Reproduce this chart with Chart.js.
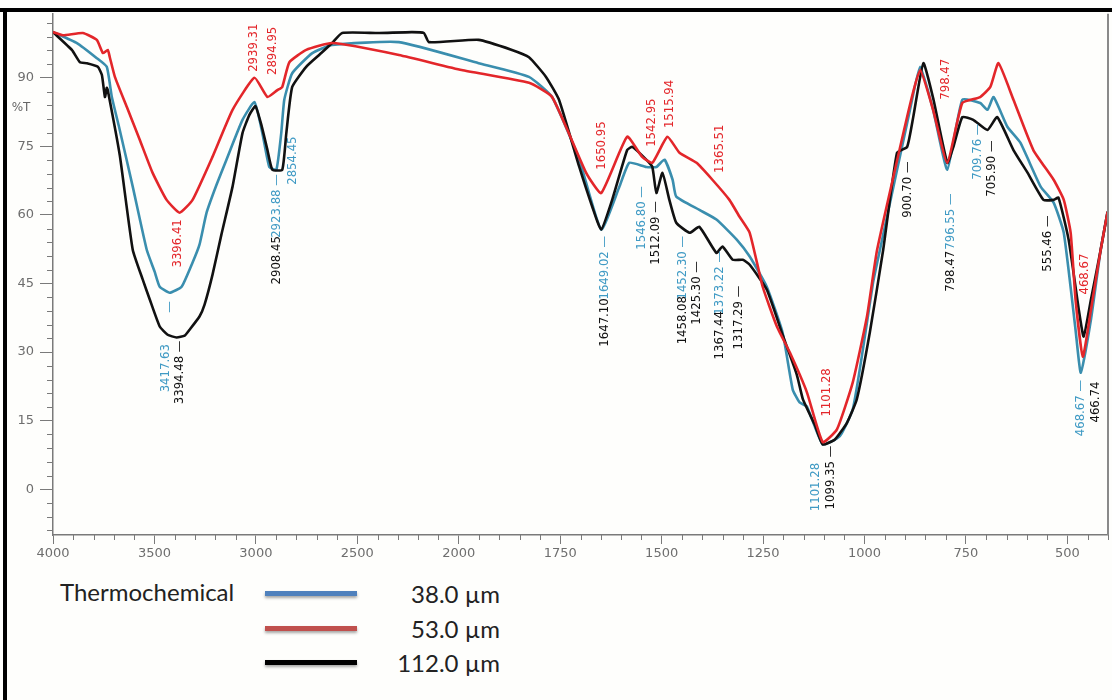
<!DOCTYPE html>
<html>
<head>
<meta charset="utf-8">
<script src="https://cdn.jsdelivr.net/npm/chart.js@4.4.1/dist/chart.umd.min.js"></script>
<style>
  html, body { margin: 0; padding: 0; background: #fff; }
  #wrap { position: relative; width: 1112px; height: 700px; background: #fefefc; overflow: hidden; }
  #box { position: absolute; left: 0; top: 0; width: 1112px; height: 565px; }
  .frame { position: absolute; background: #000; }
  .leg { position: absolute; font-family: Lato, "Open Sans", sans-serif; font-size: 24px; line-height: 28px; color: #222; white-space: nowrap; }
  .swatch { position: absolute; left: 265px; width: 92px; height: 5px; box-shadow: 0 2px 3px rgba(0,0,0,0.35); }
</style>
</head>
<body>
<div id="wrap">
  <div id="box"><canvas id="ftir"></canvas></div>
  <div class="frame" style="left:0;top:8px;width:1112px;height:4px"></div>
  <div class="frame" style="left:3px;top:8px;width:4px;height:692px"></div>
  <div class="leg" style="left:60px;top:578px">Thermochemical</div>
  <div class="swatch" style="top:591px;background:#4f81bd"></div>
  <div class="swatch" style="top:626px;background:#c0504d"></div>
  <div class="swatch" style="top:660px;background:#000"></div>
  <div class="leg" style="right:612px;top:580px">38.0 µm</div>
  <div class="leg" style="right:612px;top:615px">53.0 µm</div>
  <div class="leg" style="right:612px;top:649px">112.0 µm</div>
</div>
<script>
// tick values
const xTicks = [4000, 3500, 3000, 2500, 2000, 1750, 1500, 1250, 1000, 750, 500];
const yTicks = [0, 15, 30, 45, 60, 75, 90];

// 38.0 um (blue)
const blueWn = [4000,3882,3784,3735,3710,3671,3607,3538,3499,3474,3425,3366,3312,3278,3243,3194,3145,3066,3007,2968,
  2934,2899,2875,2860,2821,2722,2624,2295,1951,1827,1770,1703,1649,1604,1580,1538,1513,1493,1473,1464,
  1407,1365,1315,1283,1241,1202,1177,1160,1142,1103,1061,1029,1004,979,962,888,863,831,796,759,
  715,697,682,648,616,566,534,509,480,467,442,418,401];
const blueT = [100,97.6,94.3,92.4,85.8,78.6,66.2,52.4,47.6,44.3,43.0,44.3,49.6,53.5,60.5,66.6,72.1,80.8,84.7,77.9,
  70.5,69.9,77.9,85.2,91.0,95.4,97.2,97.8,93.2,90.2,85.8,72.1,56.8,66.2,71.4,70.5,70.5,72.1,67.7,64.0,
  61.1,59.0,54.6,50.9,44.3,34.3,21.8,19.0,18.1,9.8,11.6,17.5,30.6,45.2,52.4,83.0,92.4,83.0,69.9,85.2,
  84.5,83.0,85.8,79.3,75.8,66.2,62.7,56.1,34.9,25.5,37.1,52.4,60.7];

// 53.0 um (red)
const redWn = [4000,3951,3853,3784,3754,3730,3720,3695,3636,3572,3509,3440,3376,3312,3214,3115,3007,2943,2894,2870,
  2835,2752,2624,2295,1993,1827,1770,1686,1649,1585,1548,1523,1486,1456,1414,1375,1333,1308,1283,1251,
  1216,1184,1142,1103,1068,1029,994,969,888,863,831,796,759,715,690,670,633,584,534,509,
  492,480,462,442,418,401];
const redT = [100,99.3,99.8,98.3,95.4,96.1,94.5,90.2,83.6,76.4,69.2,63.3,60.5,63.3,72.7,83.0,90.0,85.8,87.3,88.0,
  93.4,96.1,97.6,95.0,91.7,88.9,85.8,69.2,64.8,77.1,72.7,71.4,77.1,73.6,71.4,67.7,63.3,59.6,56.1,44.3,
  35.6,29.9,21.2,10.3,13.1,23.4,37.8,52.4,84.1,91.7,83.0,71.4,84.5,85.8,88.0,93.2,85.2,74.2,67.7,63.3,
  56.1,41.5,29.0,39.3,52.4,60.7];

// 112.0 um (black)
const blackWn = [4000,3907,3867,3833,3779,3759,3744,3735,3730,3671,3607,3558,3523,3474,3435,3391,3351,3327,3278,3253,
  3214,3170,3115,3066,3032,3002,2973,2943,2919,2870,2850,2821,2752,2688,2624,2575,2393,2231,2172,2147,
  1951,1869,1827,1785,1753,1703,1671,1649,1622,1585,1572,1538,1523,1513,1498,1481,1464,1431,1407,1365,
  1350,1325,1300,1283,1241,1202,1167,1152,1135,1123,1103,1073,1043,1019,987,954,920,895,880,855,
  830,796,781,759,732,697,673,633,598,559,534,522,497,472,460,442,418,401];
const blackT = [100,96.1,93.4,93.2,92.4,90.6,85.8,87.8,87.3,73.1,52.4,45.9,41.5,35.6,33.8,33.2,33.6,34.9,37.8,40.4,
  46.9,55.7,66.2,77.9,81.9,83.8,79.7,74.2,69.9,69.9,77.9,88.0,92.4,95.0,97.6,99.8,99.8,100,99.8,97.8,
  98.3,96.1,94.5,90.2,85.2,70.5,61.8,56.8,63.3,74.2,74.9,72.1,70.5,64.8,69.2,63.3,58.3,56.1,57.4,51.7,
  53.1,50.2,50.2,49.1,43.7,33.8,25.1,19.7,16.4,14.2,9.8,10.9,14.6,19.7,34.3,52.4,73.6,74.9,81.4,93.2,
  85.2,71.4,74.9,81.4,80.8,78.6,81.4,74.2,69.2,63.3,63.3,63.8,54.6,39.3,33.4,41.5,52.4,60.7];

// peak labels: [text, wavenumber, %T at the foot of the text]
const redPeaks = [['2939.31',3012,91.3],['2894.95',2919,90.6],['3396.41',3386,48.5],['1650.95',1649,69.9],
  ['1542.95',1525,74.9],['1515.94',1481,79.0],['1365.51',1357,69.2],['1101.28',1093,15.9],['798.47',799,85.2],
  ['468.67',457,42.6]];
const bluePeaks = [['3417.63',3445,21.2],['\u2014',3425,38.6],['2923.88 \u2014',2899,55.0],['2854.45',2821,66.6],
  ['1649.02 \u2014',1641,41.5],['1546.80 \u2014',1550,52.4],['1452.30 \u2014',1449,41.5],['1373.22 \u2014',1357,38.2],
  ['1101.28',1120,-4.8],['796.55 \u2014',789,52.4],['709.76 \u2014',722,67.7],['468.67 \u2014',467,11.6]];
const blackPeaks = [['3394.48 \u2014',3376,18.6],['2908.45',2899,44.8],['1647.10',1641,31.2],['1512.09 \u2014',1514,49.1],
  ['1458.08',1449,31.7],['1425.30 \u2014',1414,36.0],['1367.44',1357,28.4],['1317.29 \u2014',1310,30.6],
  ['1099.35 \u2014',1083,-4.4],['900.70 \u2014',895,59.4],['798.47',789,43.2],['705.90 \u2014',687,64.0],
  ['555.46 \u2014',549,47.6],['466.74',430,14.6]];

const RED = '#e3262a', BLUE = '#3a8eae', BLACK = '#111';

// wavenumber axis: 4000-2000 is drawn at half the scale of 2000-400
function squash(w) { return w <= 2000 ? w : 2000 + (w - 2000) / 2; }
function unsquash(u) { return u <= 2000 ? u : 2000 + (u - 2000) * 2; }

class FtirScale extends Chart.LinearScale {
  getPixelForValue(v) {
    const a = squash(this.min), b = squash(this.max);
    return this.getPixelForDecimal((squash(v) - a) / (b - a));
  }
  getValueForPixel(p) {
    const a = squash(this.min), b = squash(this.max);
    return unsquash(a + this.getDecimalForPixel(p) * (b - a));
  }
}
FtirScale.id = 'ftir';
FtirScale.defaults = Chart.LinearScale.defaults;
Chart.register(FtirScale);

function points(wn, t) {
  return wn.map((w, i) => ({ x: w, y: t[i] }));
}

const axisGray = '#7a7a7a';

const extras = {
  id: 'extras',
  afterDatasetsDraw(chart) {
    const { ctx, chartArea: a, scales: { x, y } } = chart;
    ctx.save();
    // right border of plot
    ctx.strokeStyle = '#8a8a8a';
    ctx.lineWidth = 2;
    ctx.beginPath();
    ctx.moveTo(a.right, a.top);
    ctx.lineTo(a.right, a.bottom);
    ctx.stroke();
    // minor ticks
    ctx.strokeStyle = axisGray;
    ctx.lineWidth = 1;
    ctx.beginPath();
    for (let v = 3900; v > 2000; v -= 100) {
      if (v % 500 === 0) continue;
      const px = Math.round(x.getPixelForValue(v)) + 0.5;
      ctx.moveTo(px, a.bottom); ctx.lineTo(px, a.bottom + 5);
    }
    for (let v = 1950; v >= 400; v -= 50) {
      if (v % 250 === 0) continue;
      const px = Math.round(x.getPixelForValue(v)) + 0.5;
      ctx.moveTo(px, a.bottom); ctx.lineTo(px, a.bottom + 5);
    }
    for (let v = -9; v <= 102; v += 3) {
      if (v % 15 === 0) continue;
      const py = Math.round(y.getPixelForValue(v)) + 0.5;
      ctx.moveTo(a.left - 6, py); ctx.lineTo(a.left, py);
    }
    ctx.stroke();
    // %T
    ctx.fillStyle = '#666';
    ctx.font = '12px "DejaVu Sans", sans-serif';
    ctx.textAlign = 'center';
    ctx.textBaseline = 'middle';
    ctx.fillText('%T', a.left - 32, y.getPixelForValue(83.4));
    // peak labels, written bottom to top
    ctx.font = '13px "DejaVu Sans Condensed", "Liberation Sans Narrow", sans-serif';
    ctx.textAlign = 'left';
    ctx.textBaseline = 'middle';
    const groups = [[bluePeaks, '#3f9ac4'], [blackPeaks, BLACK], [redPeaks, RED]];
    groups.forEach(([list, color]) => {
      ctx.fillStyle = color;
      list.forEach(([text, wn, t]) => {
        ctx.save();
        ctx.translate(x.getPixelForValue(wn), y.getPixelForValue(t));
        ctx.rotate(-Math.PI / 2);
        ctx.fillText(text, 0, 0);
        ctx.restore();
      });
    });
    ctx.restore();
  }
};

new Chart(document.getElementById('ftir'), {
  type: 'line',
  data: {
    datasets: [
      { label: '53.0 µm', data: points(redWn, redT), borderColor: RED, order: 1 },
      { label: '112.0 µm', data: points(blackWn, blackT), borderColor: BLACK, order: 2 },
      { label: '38.0 µm', data: points(blueWn, blueT), borderColor: BLUE, order: 3 }
    ]
  },
  options: {
    responsive: true,
    maintainAspectRatio: false,
    animation: false,
    parsing: false,
    layout: { padding: { top: 12, right: 4, left: 0, bottom: 0 } },
    elements: {
      line: { borderWidth: 2.6, tension: 0.15, fill: false },
      point: { radius: 0 }
    },
    plugins: { legend: { display: false }, tooltip: { enabled: false } },
    scales: {
      x: {
        type: 'ftir',
        min: 400,
        max: 4000,
        reverse: true,
        afterBuildTicks: s => { s.ticks = xTicks.map(v => ({ value: v })); },
        afterFit: s => { s.height = 30; },
        ticks: {
          autoSkip: false, maxRotation: 0, padding: 2,
          color: '#6e6e6e', font: { family: 'DejaVu Sans', size: 13 },
          callback: v => String(v)
        },
        grid: { drawOnChartArea: false, tickLength: 9, color: axisGray },
        border: { color: axisGray, width: 1.5 }
      },
      y: {
        min: -10,
        max: 104,
        afterBuildTicks: s => { s.ticks = yTicks.map(v => ({ value: v })); },
        afterFit: s => { s.width = 53; },
        ticks: {
          padding: 6, color: '#6e6e6e', font: { family: 'DejaVu Sans', size: 13 },
          callback: v => String(v)
        },
        grid: { drawOnChartArea: false, tickLength: 13, color: axisGray },
        border: { color: axisGray, width: 1.5 }
      }
    }
  },
  plugins: [extras]
});
</script>
</body>
</html>
